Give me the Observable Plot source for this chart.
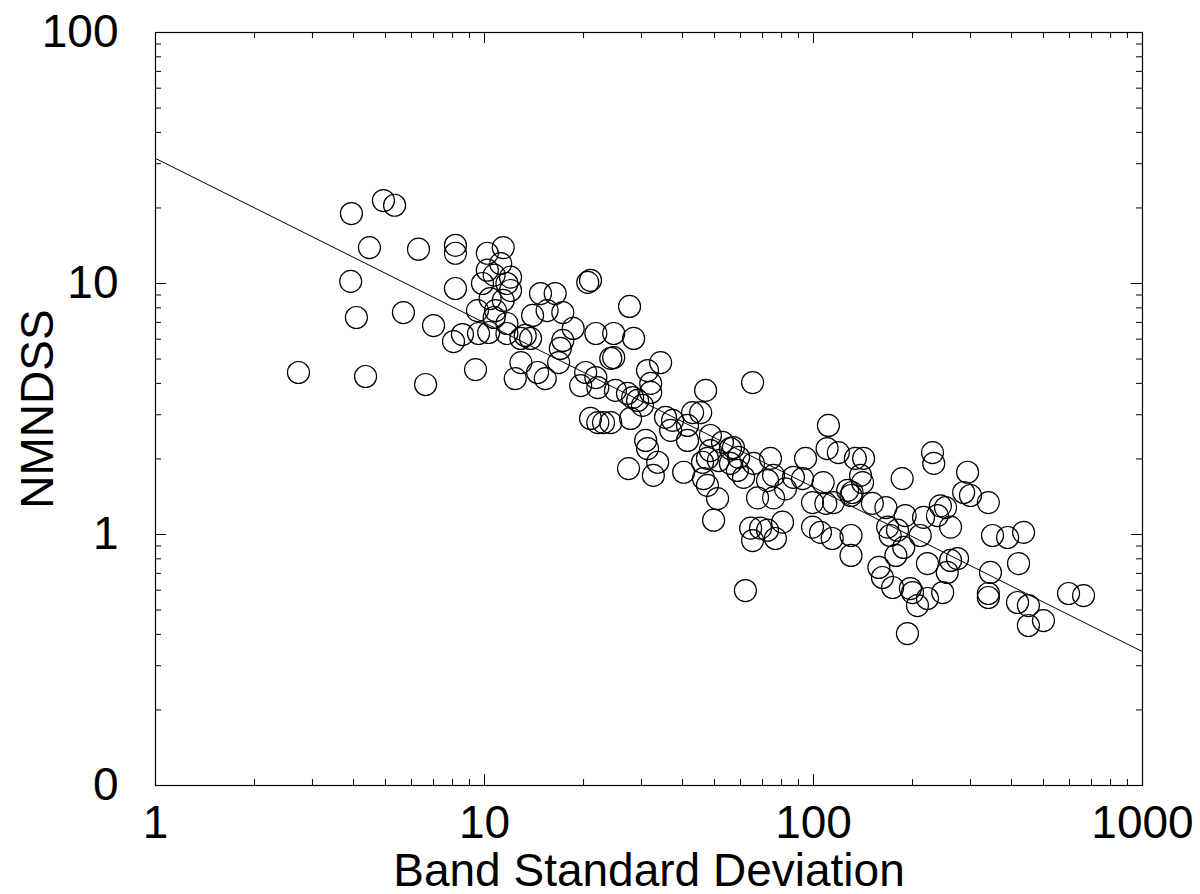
<!DOCTYPE html>
<html><head><meta charset="utf-8">
<script src="https://cdn.jsdelivr.net/npm/d3@7"></script>
<script src="https://cdn.jsdelivr.net/npm/@observablehq/plot@0.6"></script>
<style>
html,body{margin:0;padding:0;background:#fff;}
#chart svg{display:block;}
</style>
</head><body><div id="chart"></div>
<script>
// Band standard deviation (x) and NMNDSS (y)
const bandSD = [
  2.72,3.94,3.92,4.08,4.35,4.47,4.93,5.33,5.67,6.30,6.62,7.00,8.16,8.16,8.16,8.05,8.57,9.39,9.59,
  10.2,11.4,11.2,10.2,10.7,12.0,9.86,11.7,12.0,10.4,11.4,10.8,9.52,10.7,11.7,11.7,10.3,12.9,13.8,13.3,14.8,16.4,14.0,15.5,17.3,18.6,17.3,16.8,17.0,12.9,12.4,14.5,15.3,
  20.6,21.0,21.8,24.7,28.4,27.6,24.2,24.7,20.3,21.8,19.6,22.1,25.0,27.2,28.2,29.2,30.2,31.3,32.0,32.0,34.3,47.0,65.3,21.0,22.1,23.0,24.2,27.8,35.5,37.3,36.8,42.9,41.4,41.4,48.6,52.9,55.9,30.9,31.3,27.4,33.6,32.6,40.3,46.0,47.6,51.4,55.9,58.7,46.3,47.6,51.1,49.7,45.4,48.6,
  111,110,119,134,139,131,127,186,74.0,94.6,57.1,59.2,65.7,75.6,72.5,86.9,92.6,61.3,67.6,75.6,82.2,99.3,109,115,107,130,151,166,64.4,69.0,72.5,80.5,65.3,76.6,99.3,105,114,130,130,168,180,158,62.1,142,141,
  230,232,294,286,300,340,243,252,238,261,211,216,190,171,188,178,222,255,261,274,162,174,197,200,222,247,207,193,345,340,340,350,389,435,420,417,450,450,500,596,662
];
const nmndss = [
  4.42,19.0,10.2,7.32,4.26,13.9,21.4,20.5,7.66,13.7,3.96,6.80,14.2,13.2,9.55,5.87,6.26,4.54,6.32,
  13.2,13.9,12.0,11.3,10.8,10.6,10.0,10.0,9.38,8.71,8.56,7.80,7.80,7.32,6.93,6.32,6.38,6.04,6.04,6.21,9.12,9.12,7.46,7.80,7.66,6.62,5.93,4.84,5.51,4.84,4.18,4.42,4.18,
  10.1,10.3,6.32,6.32,6.04,8.10,5.03,5.07,4.42,4.22,3.92,3.85,3.75,3.65,3.51,3.42,3.27,4.50,4.00,3.68,4.84,3.75,4.03,2.90,2.79,2.79,2.79,2.90,2.93,2.85,2.60,3.06,2.72,2.37,2.48,2.33,2.20,2.37,2.20,1.83,1.94,1.72,1.77,1.94,2.01,1.97,1.92,1.80,1.67,1.57,1.39,1.14,3.06,2.16,
  2.72,2.20,2.12,2.01,1.72,1.47,1.50,1.67,2.01,2.01,2.22,2.03,1.92,1.72,1.64,1.69,1.67,1.69,1.40,1.40,1.52,1.34,1.33,1.34,1.61,1.43,1.33,1.28,1.06,1.06,1.04,1.12,0.946,0.964,1.07,1.02,0.964,0.991,0.825,1.07,1.04,0.739,0.598,2.01,1.61,
  2.12,1.92,1.77,1.47,1.43,1.34,1.30,1.28,1.19,1.07,0.991,1.17,1.19,0.991,0.888,0.825,0.766,0.706,0.788,0.802,0.674,0.615,0.609,0.587,0.556,0.587,0.521,0.403,0.706,0.582,0.561,0.991,0.973,1.02,0.766,0.536,0.521,0.434,0.454,0.582,0.571
];
// Power-law fit drawn in the reference: y = coef * x^exponent
const fitCoef = [31.5];
const fitExponent = [-0.655];
const fitRange = [1, 1000];

const xTickValues = [1, 10, 100, 1000];
const yTickValues = [0.1, 1, 10, 100];
const xLabel = "Band Standard Deviation";
const yLabel = "NMNDSS";

const W = 1200, H = 894, mL = 155, mR = 58, mT = 32, mB = 109;
const iw = W - mL - mR, ih = H - mT - mB;
const MAJ = 11, MIN = 6;
const fs = 46;
const font = "'Liberation Sans', Arial, Helvetica, sans-serif";

const mult = [2, 3, 4, 5, 6, 7, 8, 9];
const minorX = xTickValues.slice(0, -1).flatMap(d => mult.map(k => k * d));
const minorY = yTickValues.slice(0, -1).flatMap(d => mult.map(k => +(k * d).toPrecision(3)));

const points = bandSD.map((x, i) => ({x, y: nmndss[i]}));
const fitLine = fitRange.map(x => ({x, y: fitCoef[0] * Math.pow(x, fitExponent[0])}));
const fmt = d3.format(".0f");

const chart = Plot.plot({
  width: W, height: H,
  marginLeft: mL, marginRight: mR, marginTop: mT, marginBottom: mB,
  style: {fontFamily: font, background: "white", color: "black", overflow: "visible"},
  x: {type: "log", domain: [1, 1000], label: null},
  y: {type: "log", domain: [0.1, 100], label: null},
  marks: [
    // inward ticks on all four sides
    Plot.tickX(minorX, {x: d => d, insetTop: ih - MIN, stroke: "black"}),
    Plot.tickX(minorX, {x: d => d, insetBottom: ih - MIN, stroke: "black"}),
    Plot.tickX(xTickValues, {x: d => d, insetTop: ih - MAJ, stroke: "black"}),
    Plot.tickX(xTickValues, {x: d => d, insetBottom: ih - MAJ, stroke: "black"}),
    Plot.tickY(minorY, {y: d => d, insetRight: iw - MIN, stroke: "black"}),
    Plot.tickY(minorY, {y: d => d, insetLeft: iw - MIN, stroke: "black"}),
    Plot.tickY(yTickValues, {y: d => d, insetRight: iw - MAJ, stroke: "black"}),
    Plot.tickY(yTickValues, {y: d => d, insetLeft: iw - MAJ, stroke: "black"}),
    Plot.line(fitLine, {x: "x", y: "y", stroke: "black", strokeWidth: 1}),
    Plot.dot(points, {x: "x", y: "y", r: 11, stroke: "black", strokeWidth: 1.2, fill: "none"}),
    Plot.frame({stroke: "black", strokeWidth: 1.2}),
    Plot.axisX({ticks: xTickValues, tickSize: 0, tickPadding: 20, fontSize: fs, tickFormat: fmt, label: null, fill: "black"}),
    Plot.axisY({ticks: yTickValues, tickSize: 0, tickPadding: 37, fontSize: fs, tickFormat: fmt, label: null, fill: "black"}),
    Plot.text([xLabel], {frameAnchor: "bottom", dy: 100, lineAnchor: "bottom", textAnchor: "middle", fontSize: fs, text: d => d, fill: "black"}),
    Plot.text([yLabel], {frameAnchor: "left", dx: -117, rotate: -90, textAnchor: "middle", lineAnchor: "middle", fontSize: fs, text: d => d, fill: "black"})
  ]
});
document.getElementById("chart").appendChild(chart);
</script>
</body></html>
